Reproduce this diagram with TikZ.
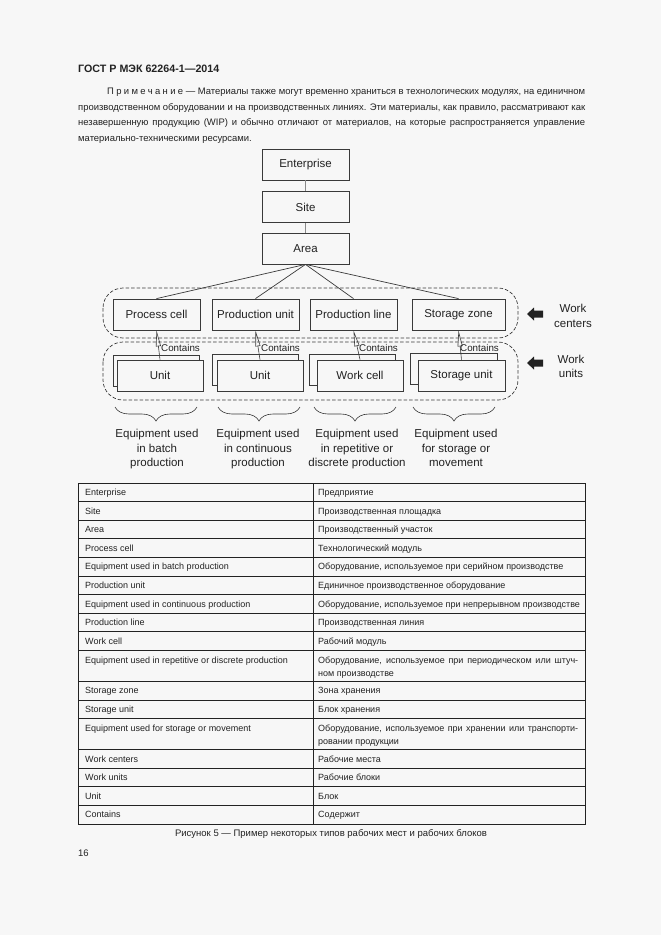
\documentclass[tikz,border=0pt]{standalone}
\usepackage{fontspec}
\setmainfont{Liberation Sans}
\usetikzlibrary{arrows.meta,decorations.pathreplacing}
\definecolor{bg}{HTML}{F7F7F7}
\definecolor{ink}{HTML}{222222}
\definecolor{ln}{HTML}{3A3A3A}
\begin{document}
\begin{tikzpicture}[x=1pt,y=-1pt,
  box/.style={draw=ln, line width=0.8pt, fill=bg, minimum width=87pt, minimum height=31pt, inner sep=0pt, text=ink, font=\fontsize{11.5}{13}\selectfont},
  zone/.style={draw=ln, line width=0.7pt, dash pattern=on 3.5pt off 2pt, rounded corners=20pt},
  fan/.style={draw=ln, line width=0.7pt},
  contains/.style={draw=ln, line width=0.6pt, -{Triangle[open, length=16pt, width=5pt]}},
  clabel/.style={anchor=west, inner sep=0pt, text=ink, font=\fontsize{9.8}{11}\selectfont},
  brc/.style={draw=ln, line width=0.6pt, decorate, decoration={brace, mirror, amplitude=14pt}},
  eqlabel/.style={anchor=north, inner sep=0pt, align=center, text=ink, font=\fontsize{11.5}{14.5}\selectfont},
  side/.style={anchor=center, inner sep=0pt, align=center, text=ink, font=\fontsize{11.5}{14.5}\selectfont},
  tcell/.style={anchor=base west, inner sep=0pt, text=ink, font=\fontsize{9}{12.5}\selectfont},
  ptext/.style={anchor=base west, inner sep=0pt, text=ink, font=\fontsize{9.45}{12}\selectfont},
  tline/.style={draw=ink, line width=0.7pt}
]
\fill[bg] (0,0) rectangle (661,935);
\useasboundingbox (0,0) rectangle (661,935);

% header
\node[anchor=base west, inner sep=0pt, text=ink, font=\fontsize{10.7}{12}\selectfont\bfseries] (title) at (78,72) {ГОСТ Р МЭК 62264-1—2014};

% note paragraph
\node[ptext] (p1) at (107,94.5) {\makebox[478pt][s]{{\addfontfeatures{LetterSpace=25}Примечание} — Материалы также могут временно храниться в технологических модулях, на единичном}};
\node[ptext] (p2) at (78,110) {\makebox[507pt][s]{производственном оборудовании и на производственных линиях. Эти материалы, как правило, рассматривают как}};
\node[ptext] (p3) at (78,125.5) {\makebox[507pt][s]{незавершенную продукцию (WIP) и обычно отличают от материалов, на которые распространяется управление}};
\node[ptext] (p4) at (78,141) {материально-техническими ресурсами.};

% hierarchy
\node[box] (ent) at (305.5,164.5) {Enterprise};
\node[box] (site) at (305.5,207) {Site};
\node[box] (area) at (305.5,248.5) {Area};
\draw[draw=ln!60, line width=0.5pt] (ent.south) -- (site.north);
\draw[draw=ln!60, line width=0.5pt] (site.south) -- (area.north);

% zones
\draw[zone] (103,288) rectangle (518,338);
\draw[zone] (103,342) rectangle (518,400);

% work centers
\node[box] (pc) at (156.5,314.5) {Process cell};
\node[box] (pu) at (255.5,314.5) {Production unit};
\node[box] (pl) at (353.5,314.5) {Production line};
\node[box, minimum width=93pt] (sz) at (458.5,314.5) {Storage zone};

\foreach \t in {pc,pu,pl,sz} \draw[fan] (area.south) -- (\t.north);

% work units (stacked)
\node[box, minimum width=86pt] (u1b) at (156,370.5) {};
\node[box, minimum width=86pt] (u1) at (160,375.5) {Unit};
\node[box, minimum width=86pt] (u2b) at (255,369.5) {};
\node[box, minimum width=86pt] (u2) at (260,375.5) {Unit};
\node[box, minimum width=86pt] (wcb) at (352,369.5) {};
\node[box, minimum width=86pt] (wc) at (360,375.5) {Work cell};
\node[box, minimum width=87pt] (sub) at (453.5,369) {};
\node[box, minimum width=87pt] (su) at (461.5,375.5) {Storage unit};

\draw[contains] (u1.north) -- (pc.south);
\draw[contains] (u2.north) -- (pu.south);
\draw[contains] (wc.north) -- (pl.south);
\draw[contains] (su.north) -- (sz.south);
\node[clabel] (c1) at (161,348) {Contains};
\node[clabel] (c2) at (261,348) {Contains};
\node[clabel] (c3) at (359,348) {Contains};
\node[clabel] (c4) at (460,348) {Contains};

% side arrows
\fill[ink] (527,314) -- (534,307.5) -- (534,310.5) -- (543,310.5) -- (543,317.5) -- (534,317.5) -- (534,320.5) -- cycle;
\fill[ink] (527,363) -- (534,356.5) -- (534,359.5) -- (543,359.5) -- (543,366.5) -- (534,366.5) -- (534,369.5) -- cycle;
\node[side] (wcen) at (573,316) {Work\\centers};
\node[side] (wun) at (571,366.5) {Work\\units};

% braces
\coordinate (b1a) at (115,407); \coordinate (b1b) at (197,407);
\coordinate (b2a) at (218,407); \coordinate (b2b) at (300,407);
\coordinate (b3a) at (314,407); \coordinate (b3b) at (396,407);
\coordinate (b4a) at (413,407); \coordinate (b4b) at (495,407);
\draw[brc] (b1a) -- (b1b);
\draw[brc] (b2a) -- (b2b);
\draw[brc] (b3a) -- (b3b);
\draw[brc] (b4a) -- (b4b);
\node[eqlabel] (e1) at (157,429) {Equipment used\\in batch\\production};
\node[eqlabel] (e2) at (258,429) {Equipment used\\in continuous\\production};
\node[eqlabel] (e3) at (357,429) {Equipment used\\in repetitive or\\discrete production};
\node[eqlabel] (e4) at (456,429) {Equipment used\\for storage or\\movement};

% table
\draw[tline] (78,483) rectangle (585,824);
\draw[tline] (313,483) -- (313,824);
\foreach \yy in {501.6,520.2,538.8,557.4,576.0,594.6,613.2,631.8,650.4,681.4,700.0,718.6,749.6,768.2,786.8,805.4}
  \draw[tline] (78,\yy) -- (585,\yy);
\foreach \yy/\l/\r in {
  495.5/Enterprise/Предприятие,
  514.1/Site/Производственная площадка,
  532.7/Area/Производственный участок,
  551.3/Process cell/Технологический модуль,
  569.9/Equipment used in batch production/{Оборудование, используемое при серийном производстве},
  588.5/Production unit/Единичное производственное оборудование,
  607.1/Equipment used in continuous production/{Оборудование, используемое при непрерывном производстве},
  625.7/Production line/Производственная линия,
  644.3/Work cell/Рабочий модуль,
  693.9/Storage zone/Зона хранения,
  712.5/Storage unit/Блок хранения,
  762.1/Work centers/Рабочие места,
  780.7/Work units/Рабочие блоки,
  799.3/Unit/Блок,
  817.9/Contains/Содержит}
{
  \node[tcell] at (85,\yy) {\l};
  \node[tcell] at (318,\yy) {\r};
}
\node[tcell] (lrep) at (85,663.5) {Equipment used in repetitive or discrete production};
\node[tcell] (rrep1) at (318,663.5) {\makebox[260pt][s]{Оборудование, используемое при периодическом или штуч-}};
\node[tcell] (rrep2) at (318,676) {ном производстве};
\node[tcell] (lsto) at (85,731.5) {Equipment used for storage or movement};
\node[tcell] (rsto1) at (318,731.5) {\makebox[260pt][s]{Оборудование, используемое при хранении или транспорти-}};
\node[tcell] (rsto2) at (318,744) {ровании продукции};

% caption and page number
\node[anchor=base, inner sep=0pt, text=ink, font=\fontsize{9.5}{11}\selectfont] (cap) at (331,836.5) {Рисунок 5 — Пример некоторых типов рабочих мест и рабочих блоков};
\node[anchor=base west, inner sep=0pt, text=ink, font=\fontsize{9.5}{11}\selectfont] (pg) at (78,856.5) {16};
\end{tikzpicture}
\end{document}
